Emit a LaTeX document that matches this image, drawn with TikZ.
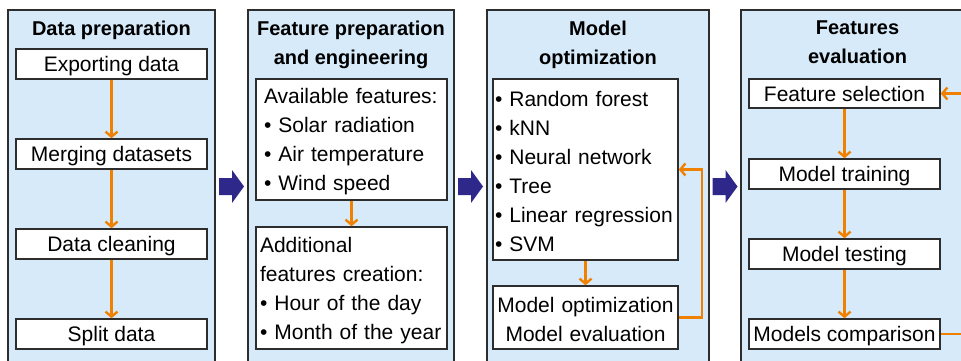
\documentclass[tikz,border=0pt]{standalone}
\usepackage{fontspec}
\setmainfont{Liberation Sans}
\usetikzlibrary{arrows.meta}
\definecolor{panelblue}{RGB}{214,234,249}
\definecolor{flow}{RGB}{240,128,0}
\definecolor{navy}{RGB}{46,40,138}
\definecolor{edgegray}{RGB}{45,45,45}
\begin{document}
\hyphenpenalty=10000
\exhyphenpenalty=10000
\begin{tikzpicture}[x=1pt,y=-1pt,
  panel/.style={draw=edgegray,line width=1.8pt,fill=panelblue},
  box/.style={draw=edgegray,line width=1.6pt,fill=white,inner sep=0pt,
    font=\fontsize{21}{29}\selectfont,minimum width=191pt,minimum height=30pt,text height=20pt},
  oneline/.style={text depth=5pt},
  title/.style={font=\fontsize{20}{29}\selectfont\bfseries,align=center,anchor=north,inner sep=0pt},
  flowarrow/.style={draw=flow,line width=2.6pt,-{Straight Barb[length=5pt,width=12pt,line width=2.4pt]}},
  bigarrow/.style={fill=navy}]
\useasboundingbox (0,0) rectangle (961,360);
\clip (0,0) rectangle (961,360);

% panels
\path[panel] (8,10) rectangle (215,375);
\path[panel] (248,10) rectangle (454,375);
\path[panel] (487,10) rectangle (709,375);
\path[panel] (741,10) rectangle (985,375);

% titles
\node[title] (t1) at (111.5,20.4) {Data preparation};
\node[title] (t2) at (351,20.4) {Feature preparation\\and engineering};
\node[title] (t3) at (598,20.4) {Model\\optimization};
\node[title] (t4) at (857.5,20.4) {Features\\evaluation};

% panel 1
\node[box,oneline] (exp) at (111.5,64) {Exporting data};
\node[box,oneline] (merge) at (111.5,154) {Merging datasets};
\node[box,oneline] (clean) at (111.5,244) {Data cleaning};
\node[box,oneline] (split) at (111.5,334) {Split data};
\draw[flowarrow] (exp) -- (merge);
\draw[flowarrow] (merge) -- (clean);
\draw[flowarrow] (clean) -- (split);

% panel 2
\node[box,minimum height=121pt,text width=175pt,inner xsep=8pt,align=left] (avail) at (351.5,139.5)
  {Available features:\\\textbullet{} Solar radiation\\\textbullet{} Air temperature\\\textbullet{} Wind speed};
\node[box,minimum height=122pt,text width=183pt,align=left] (addit) at (351.5,288)
  {Additional\\features creation:\\\textbullet{} Hour of the day\\\textbullet{} Month of the year};
\draw[flowarrow] (avail) -- (addit);

% panel 3
\node[box,minimum width=185pt,minimum height=181pt,text width=181pt,align=left] (models) at (585.5,169.5)
  {\textbullet{} Random forest\\\textbullet{} kNN\\\textbullet{} Neural network\\\textbullet{} Tree\\\textbullet{} Linear regression\\\textbullet{} SVM};
\node[box,minimum width=185pt,minimum height=63pt,text width=185pt,align=center] (moe) at (585.5,317.5)
  {Model optimization\\Model evaluation};
\draw[flowarrow] (models) -- (moe);
\draw[flowarrow] (moe.east) -- ++(23,0) |- (models.east);

% panel 4
\node[box,oneline,minimum height=29pt] (fsel) at (844.5,93.5) {Feature selection};
\node[box,oneline] (train) at (844.5,174) {Model training};
\node[box,oneline] (test) at (844.5,254) {Model testing};
\node[box,oneline] (comp) at (844.5,334) {Models comparison};
\draw[flowarrow] (fsel) -- (train);
\draw[flowarrow] (train) -- (test);
\draw[flowarrow] (test) -- (comp);
\draw[flowarrow] (comp.east) -- ++(32,0) |- (fsel.east);

% big arrows between panels
\foreach \cx in {231.5,470.5,725}{
  \fill[navy] ({\cx-12.5},178) -- ({\cx+0.5},178) -- ({\cx+0.5},170) -- ({\cx+12.5},186.5)
    -- ({\cx+0.5},203) -- ({\cx+0.5},195) -- ({\cx-12.5},195) -- cycle;
}
\end{tikzpicture}
\end{document}
